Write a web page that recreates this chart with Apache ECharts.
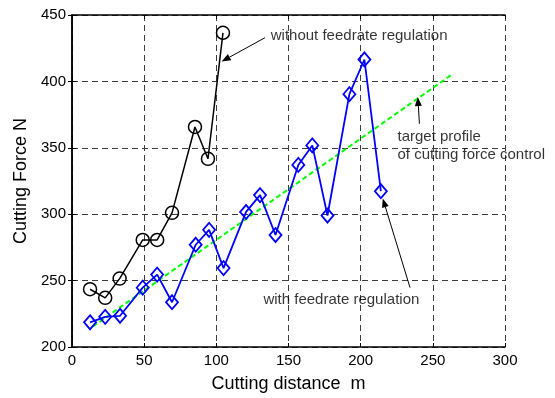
<!DOCTYPE html>
<html><head><meta charset="utf-8">
<script src="https://cdn.jsdelivr.net/npm/echarts@6/dist/echarts.min.js"></script>
<style>html,body{margin:0;padding:0;background:#fff}#c{width:555px;height:398px}</style>
</head><body><div id="c"></div>
<script>
var blackX = [12.5, 23, 33, 49, 59, 69.3, 85.2, 94.2, 104.6];
var blackY = [243.5, 237, 251.5, 280.6, 280.6, 301, 365.7, 341.7, 436.6];
var blueX = [12.5, 23, 33.3, 49, 59, 69.3, 85.7, 95, 105, 120.6, 130.3, 141, 156.8, 166.5, 177, 192.2, 202.6, 214];
var blueY = [218.6, 222.7, 223.5, 244.7, 254.5, 233.7, 277, 288.2, 259.4, 301.7, 314.4, 284.3, 337.1, 351.8, 299, 390.4, 416.5, 317.3];
var targetX = [14.5, 263];
var targetY = [215.5, 405];
var xTicks = [0, 50, 100, 150, 200, 250, 300];
var yTicks = [200, 250, 300, 350, 400, 450];
var xTitle = 'Cutting distance  m';
var yTitle = 'Cutting Force N';
var labels = [
  {text: 'without feedrate regulation', x: 137.7, y: 434.6},
  {text: 'target profile', x: 225.5, y: 358.4},
  {text: 'of cutting force control', x: 225.5, y: 345.0},
  {text: 'with feedrate regulation', x: 132.6, y: 235.7}
];
var arrows = [
  [[133.7, 432.9], [103.7, 415.0]],
  [[240.7, 368.1], [239.6, 388.2]],
  [[234.2, 244.7], [215.3, 311.9]]
];

function zip(a, b) { return a.map(function (v, i) { return [v, b[i]]; }); }
var FONT = 'Arial, "Liberation Sans", sans-serif';
var chart = echarts.init(document.getElementById('c'), null, {renderer: 'canvas'});
var splitDash = {show: true, lineStyle: {color: '#3c3c3c', width: 1, type: [6, 4]}};
var axLine = {show: true, lineStyle: {color: '#000', width: 1.5}};
var tick = {show: true, inside: true, length: 4, lineStyle: {color: '#000'}};
chart.setOption({
  animation: false,
  grid: {left: 72, top: 15, right: 50, bottom: 42, containLabel: false},
  xAxis: [{
    type: 'value', min: xTicks[0], max: xTicks[xTicks.length - 1], interval: 50, position: 'bottom',
    axisLine: axLine, axisTick: tick, splitLine: splitDash,
    axisLabel: {color: '#000', fontFamily: FONT, fontSize: 15, margin: 6},
    name: xTitle, nameLocation: 'middle', nameGap: 28,
    nameTextStyle: {color: '#000', fontFamily: FONT, fontSize: 18}
  }, {
    type: 'value', min: 0, max: 300, interval: 50, position: 'top',
    axisLine: axLine, axisTick: tick, splitLine: {show: false}, axisLabel: {show: false}
  }],
  yAxis: [{
    type: 'value', min: yTicks[0], max: yTicks[yTicks.length - 1], interval: 50, position: 'left',
    axisLine: axLine, axisTick: tick, splitLine: splitDash,
    axisLabel: {color: '#000', fontFamily: FONT, fontSize: 15, margin: 6},
    name: yTitle, nameLocation: 'middle', nameGap: 30, nameRotate: 90,
    nameTextStyle: {color: '#000', fontFamily: FONT, fontSize: 18}
  }, {
    type: 'value', min: 200, max: 450, interval: 50, position: 'right',
    axisLine: axLine, axisTick: tick, splitLine: {show: false}, axisLabel: {show: false}
  }],
  series: [
    {
      type: 'line', data: zip(targetX, targetY), symbol: 'none',
      lineStyle: {color: '#00ff00', width: 2, type: [5, 3]}, z: 2
    },
    {
      type: 'line', data: zip(blackX, blackY), symbol: 'circle', symbolSize: 13,
      lineStyle: {color: '#000', width: 1.5},
      itemStyle: {color: 'rgba(0,0,0,0)', borderColor: '#000', borderWidth: 1.5}, z: 3
    },
    {
      type: 'line', data: zip(blueX, blueY), symbol: 'diamond', symbolSize: [12, 14],
      lineStyle: {color: '#0000ff', width: 1.8},
      itemStyle: {color: 'rgba(0,0,0,0)', borderColor: '#0000ff', borderWidth: 1.8}, z: 3
    },
    {
      type: 'scatter', data: labels.map(function (l) { return {value: [l.x, l.y], name: l.text}; }),
      symbolSize: 0, silent: true, z: 5,
      label: {
        show: true, position: 'right', distance: 0, formatter: function (p) { return p.name; },
        color: '#000', fontFamily: FONT, fontSize: 15
      }
    }
  ]
});

var g = [];
arrows.forEach(function (a) {
  var p0 = chart.convertToPixel({gridIndex: 0}, a[0]);
  var p1 = chart.convertToPixel({gridIndex: 0}, a[1]);
  var dx = p1[0] - p0[0], dy = p1[1] - p0[1];
  var L = Math.sqrt(dx * dx + dy * dy);
  var ux = dx / L, uy = dy / L;
  var hl = 9, hw = 3.5;
  var bx = p1[0] - ux * hl, by = p1[1] - uy * hl;
  g.push({type: 'line', silent: true, z: 10,
    shape: {x1: p0[0], y1: p0[1], x2: bx, y2: by},
    style: {stroke: '#000', lineWidth: 1}});
  g.push({type: 'polygon', silent: true, z: 10,
    shape: {points: [[p1[0], p1[1]], [bx - uy * hw, by + ux * hw], [bx + uy * hw, by - ux * hw]]},
    style: {fill: '#000'}});
});
chart.setOption({graphic: g});
</script></body></html>
